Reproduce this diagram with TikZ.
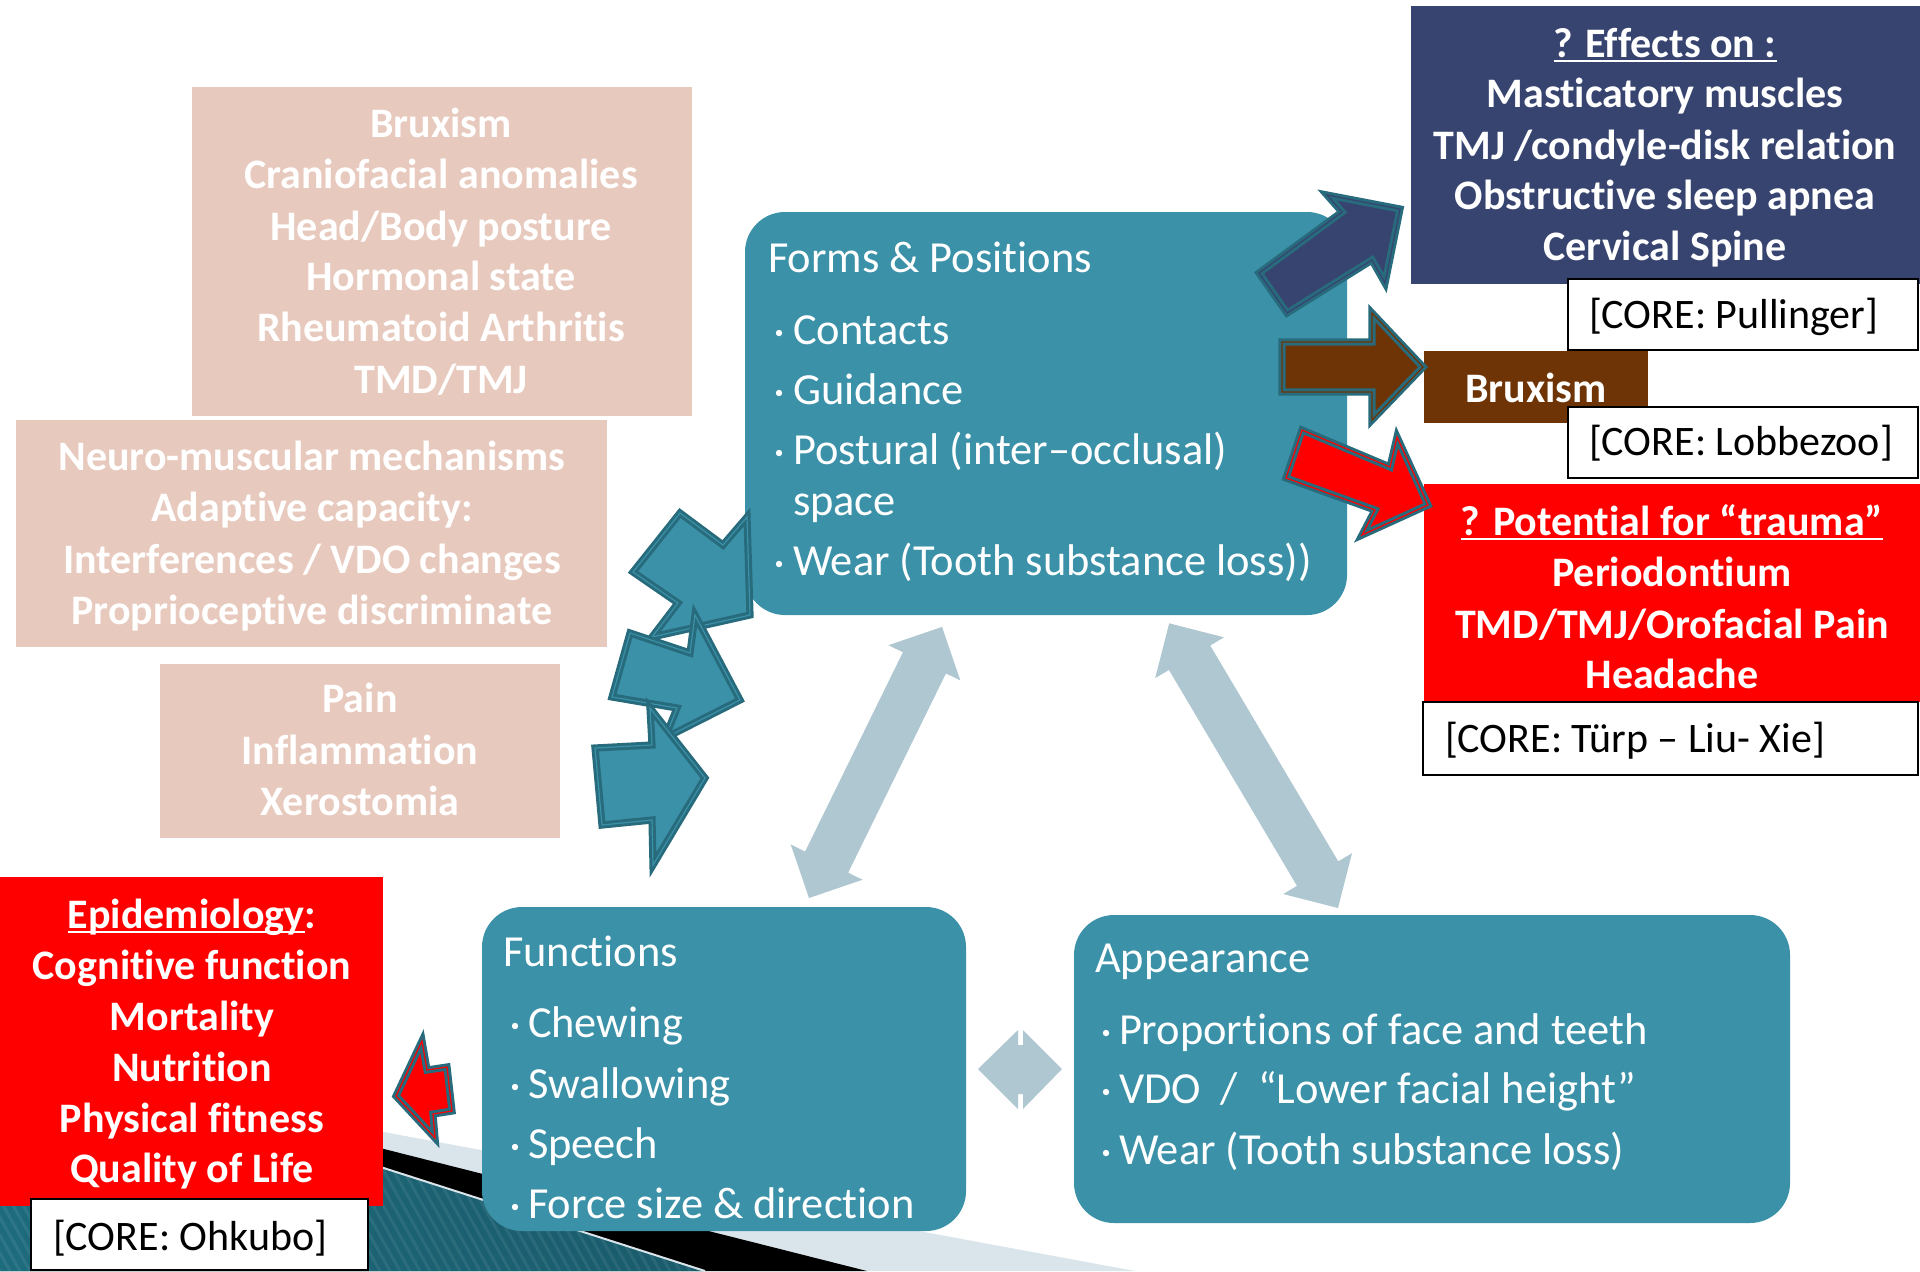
\documentclass[tikz,border=0pt]{standalone}
\usepackage{fontspec}
\setmainfont{Carlito}[Ligatures={NoCommon,NoContextual,NoRare}, RawFeature={-liga;-clig;-calt;-dlig}]
\usetikzlibrary{calc}

\definecolor{boxteal}{HTML}{3B91A7}
\definecolor{edgeteal}{HTML}{276B7D}
\definecolor{blush}{HTML}{E8C9BD}
\definecolor{navy}{HTML}{374470}
\definecolor{rust}{HTML}{6E3405}
\definecolor{alarm}{HTML}{FF0000}
\definecolor{mist}{HTML}{AFC7D1}
\definecolor{paleband}{HTML}{DAE5EB}
\definecolor{deepteal}{HTML}{1E6B7E}
\definecolor{softteal}{HTML}{4E9CB1}

% underline drawn at a fixed depth below the baseline
\newcommand\myul[1]{\setbox0\hbox{#1}\rlap{\rule[-2.6pt]{\wd0}{1.3pt}}\box0}

\begin{document}
\begin{tikzpicture}[x=0.5pt, y=-0.5pt,
  every node/.style={inner sep=0pt, outer sep=0pt},
  panel/.style={fill=boxteal, rounded corners=20pt},
  blushbox/.style={fill=blush},
  corebox/.style={fill=white, draw=black, line width=1pt},
  boldtxt/.style={font=\bfseries\fontsize{21pt}{25pt}\selectfont, text=white, anchor=base},
  plaintxt/.style={font=\fontsize{22.2pt}{26pt}\selectfont, text=white, anchor=base west},
  coretxt/.style={font=\fontsize{21pt}{25pt}\selectfont, text=black, anchor=base west},
  blockarrow/.style={draw=edgeteal, double=#1, fill=#1, line width=1.5pt, double distance=0.6pt},
  twoway/.style={fill=mist},
  dot/.style={fill=white},
]
\useasboundingbox (0,0) rectangle (1920,1271);

% ---- slanted bands in the lower left corner ----
\fill[paleband] (0,1061) -- (1135,1271) -- (0,1271) -- cycle;
\fill[black] (0,1052) -- (867,1271) -- (0,1271) -- cycle;
\begin{scope}
  \clip (0,1045) -- (705,1271) -- (0,1271) -- cycle;
  \shade[left color=deepteal, middle color=softteal, right color=deepteal!85!black]
    (0,1040) rectangle (705,1271);
  \foreach \k in {-200,-190,...,800}
    \draw[white, opacity=0.07, line width=1.5] (\k,1040) -- (\k+130,1271);
\end{scope}
\draw[paleband, line width=1] (0,1045) -- (705,1271);

% ---- pink factor boxes ----
\node[blushbox, minimum width=250pt, minimum height=164.5pt] (pinkA) at (442,251.5) {};
\node[blushbox, minimum width=295.5pt, minimum height=113.5pt] (pinkB) at (311.5,533.5) {};
\node[blushbox, minimum width=200pt, minimum height=87pt] (pinkC) at (360,751) {};

\node[boldtxt] (pa1) at (441,137) {Bruxism};
\node[boldtxt] (pa2) at (441,188) {Craniofacial anomalies};
\node[boldtxt] (pa3) at (441,240) {Head/Body posture};
\node[boldtxt] (pa4) at (441,290) {Hormonal state};
\node[boldtxt] (pa5) at (441,341) {Rheumatoid Arthritis};
\node[boldtxt] (pa6) at (441,393) {TMD/TMJ};

\node[boldtxt] (pb1) at (312,470) {Neuro-muscular mechanisms};
\node[boldtxt] (pb2) at (312,521) {Adaptive capacity:};
\node[boldtxt] (pb3) at (312,573) {Interferences / VDO changes};
\node[boldtxt] (pb4) at (312,624) {Proprioceptive discriminate};

\node[boldtxt] (pc1) at (360,712) {Pain};
\node[boldtxt] (pc2) at (360,764) {Inflammation};
\node[boldtxt] (pc3) at (360,815) {Xerostomia};

% ---- the three teal panels ----
\node[panel, minimum width=301pt, minimum height=201.5pt] (forms) at (1046,413.5) {};
\node[panel, minimum width=242pt, minimum height=162pt] (funcs) at (724,1069) {};
\node[panel, minimum width=358pt, minimum height=154pt] (looks) at (1432,1069) {};

\node[plaintxt] (fp0) at (768,272) {Forms \& Positions};
\node[plaintxt] (fp1) at (793,344) {Contacts};
\node[plaintxt] (fp2) at (793,404) {Guidance};
\node[plaintxt] (fp3) at (793,464) {Postural (inter–occlusal)};
\node[plaintxt] (fp3b) at (793,515) {space};
\node[plaintxt] (fp4) at (793,575) {Wear (Tooth substance loss))};
\foreach \yy in {333,393,453,564} \fill[dot] (779,\yy) circle (3.2);

\node[plaintxt] (fn0) at (503,966) {Functions};
\node[plaintxt] (fn1) at (528,1037) {Chewing};
\node[plaintxt] (fn2) at (528,1098) {Swallowing};
\node[plaintxt] (fn3) at (528,1158) {Speech};
\node[plaintxt] (fn4) at (528,1218) {Force size \& direction};
\foreach \yy in {1026,1087,1147,1207} \fill[dot] (515,\yy) circle (3.2);

\node[plaintxt] (ap0) at (1095,972) {Appearance};
\node[plaintxt] (ap1) at (1119,1044) {Proportions of face and teeth};
\node[plaintxt] (ap2) at (1119,1103) {VDO~ /~ “Lower facial height”};
\node[plaintxt] (ap3) at (1119,1164) {Wear (Tooth substance loss)};
\foreach \yy in {1033,1092,1153} \fill[dot] (1106,\yy) circle (3.2);

% ---- two-way links between the panels ----
\begin{scope}[shift={(809,898)}, rotate=63.86]
  \fill[twoway] (0,0) -- (40,40) -- (40,24) -- (262,24) -- (262,40) -- (302,0)
    -- (262,-40) -- (262,-24) -- (40,-24) -- (40,-40) -- cycle;
\end{scope}
\begin{scope}[shift={(1338,908)}, rotate=120.67]
  \fill[twoway] (0,0) -- (40,40) -- (40,24) -- (291,24) -- (291,40) -- (331,0)
    -- (291,-40) -- (291,-24) -- (40,-24) -- (40,-40) -- cycle;
\end{scope}
\fill[twoway] (978,1069) -- (1018,1030) -- (1018,1045) -- (1023,1045) -- (1023,1030)
  -- (1062,1069) -- (1023,1109) -- (1023,1094) -- (1018,1094) -- (1018,1109) -- cycle;

% ---- outcome boxes ----
\node[fill=navy, minimum width=254.5pt, minimum height=139pt] (effects) at (1665.5,145) {};
\node[boldtxt] (ef1) at (1665,57) {\myul{? Effects on :}};
\node[boldtxt] (ef2) at (1665,107) {Masticatory muscles};
\node[boldtxt] (ef3) at (1665,159) {TMJ /condyle-disk relation};
\node[boldtxt] (ef4) at (1665,209) {Obstructive sleep apnea};
\node[boldtxt] (ef5) at (1665,260) {Cervical Spine};

\node[fill=rust, minimum width=112pt, minimum height=36pt] (brux) at (1536,387) {};
\node[boldtxt] (bx1) at (1536,402) {Bruxism};

\node[fill=alarm, minimum width=248pt, minimum height=109pt] (trauma) at (1672,593) {};
\node[boldtxt] (tr1) at (1672,535) {\myul{? Potential for “trauma”}};
\node[boldtxt] (tr2) at (1672,586) {Periodontium};
\node[boldtxt] (tr3) at (1672,638) {TMD/TMJ/Orofacial Pain};
\node[boldtxt] (tr4) at (1672,688) {Headache};

\node[fill=alarm, minimum width=191.5pt, minimum height=164.5pt] (epi) at (191.5,1041.5) {};
\node[boldtxt] (ep1) at (192,928) {\myul{Epidemiology}:};
\node[boldtxt] (ep2) at (192,979) {Cognitive function};
\node[boldtxt] (ep3) at (192,1030) {Mortality};
\node[boldtxt] (ep4) at (192,1081) {Nutrition};
\node[boldtxt] (ep5) at (192,1132) {Physical fitness};
\node[boldtxt] (ep6) at (192,1182) {Quality of Life};

% ---- block arrows ----
\path[blockarrow=boxteal] (680,513) -- (723,545) -- (747,517) -- (750,615) -- (652,637)
  -- (678,603) -- (633,572) -- cycle;
\path[blockarrow=boxteal] (630,633) -- (690,653) -- (695,615) -- (740,700) -- (665,738)
  -- (677,708) -- (612,697) -- cycle;
\path[blockarrow=boxteal] (595,748) -- (652,745) -- (650,708) -- (705,778) -- (653,865)
  -- (652,820) -- (602,825) -- cycle;

\path[blockarrow=navy] (1259,273) -- (1342,212) -- (1327,195) -- (1400,209) -- (1385,283)
  -- (1372,260) -- (1287,313) -- cycle;
\path[blockarrow=rust] (1282,342) -- (1372,342) -- (1372,313) -- (1423,367) -- (1372,420)
  -- (1372,392) -- (1282,392) -- cycle;
\path[blockarrow=alarm] (1302,430) -- (1390,467) -- (1397,437) -- (1428,505) -- (1362,535)
  -- (1375,510) -- (1286,478) -- cycle;
\path[blockarrow=alarm] (396,1096) -- (422,1041) -- (427,1070) -- (447,1067) -- (452,1111)
  -- (433,1114) -- (435,1138) -- cycle;

% ---- reference tags ----
\node[corebox, minimum width=175pt, minimum height=35.5pt] (refP) at (1743,314.5) {};
\node[coretxt] (refPt) at (1589,328) {[CORE: Pullinger]};
\node[corebox, minimum width=175pt, minimum height=35.5pt] (refL) at (1743,442.5) {};
\node[coretxt] (refLt) at (1589,455) {[CORE: Lobbezoo]};
\node[corebox, minimum width=247.5pt, minimum height=36.5pt] (refT) at (1670.5,738.5) {};
\node[coretxt] (refTt) at (1445,752) {[CORE: Türp – Liu- Xie]};
\node[corebox, minimum width=168.5pt, minimum height=35.5pt] (refO) at (199.5,1234.5) {};
\node[coretxt] (refOt) at (53,1250) {[CORE: Ohkubo]};
\end{tikzpicture}
\end{document}
